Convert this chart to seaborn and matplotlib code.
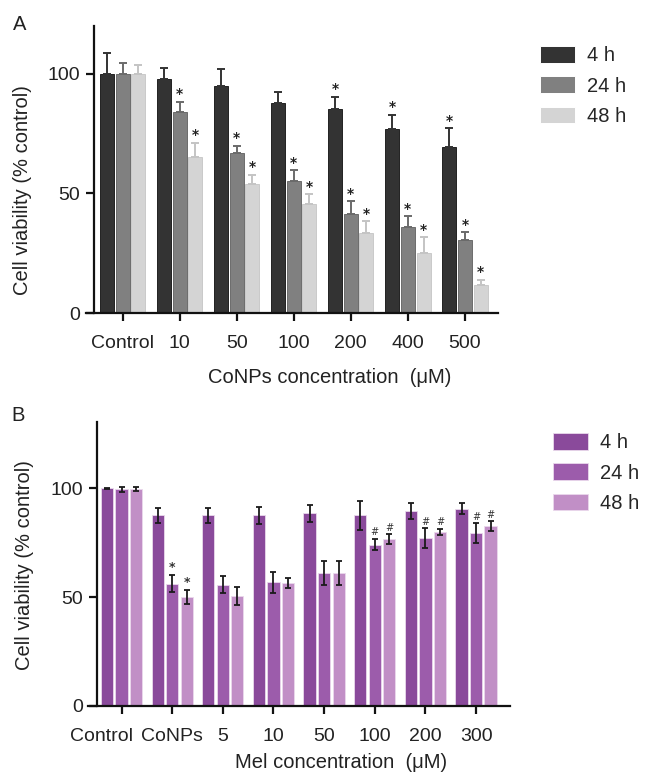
import numpy as np
import pandas as pd
import matplotlib
matplotlib.use("Agg")
import matplotlib.pyplot as plt
import matplotlib.transforms as mtransforms
import seaborn as sns

# ---------------- data ----------------
times = ["4 h", "24 h", "48 h"]

conc_a = ["Control", "10", "50", "100", "200", "400", "500"]
a_4h = [100.0, 97.8, 95.1, 87.7, 85.2, 77.1, 69.2]
a_24h = [100.0, 84.2, 66.8, 55.4, 41.4, 35.8, 30.6]
a_48h = [100.0, 65.3, 53.8, 45.6, 33.4, 25.1, 11.8]
a_err_4h = [8.6, 4.6, 7.0, 4.5, 5.1, 5.8, 8.0]
a_err_24h = [4.5, 4.2, 3.1, 4.2, 5.3, 4.6, 3.1]
a_err_48h = [3.8, 5.7, 4.0, 4.0, 4.9, 6.5, 2.1]
# significance marks per (time, concentration)
a_sig_4h = ["", "", "", "", "*", "*", "*"]
a_sig_24h = ["", "*", "*", "*", "*", "*", "*"]
a_sig_48h = ["", "*", "*", "*", "*", "*", "*"]

conc_b = ["Control", "CoNPs", "5", "10", "50", "100", "200", "300"]
b_4h = [100.0, 87.6, 87.6, 87.6, 88.5, 87.6, 89.6, 90.6]
b_24h = [99.5, 56.2, 55.8, 56.8, 61.1, 74.2, 77.0, 79.3]
b_48h = [99.8, 50.1, 50.7, 56.5, 61.1, 76.8, 79.9, 82.6]
b_err_4h = [0.3, 3.6, 3.6, 3.8, 4.0, 6.8, 3.8, 2.5]
b_err_24h = [1.3, 4.0, 3.8, 5.0, 5.6, 2.6, 4.6, 4.6]
b_err_48h = [1.0, 3.2, 4.1, 2.3, 5.5, 2.2, 1.5, 2.2]
b_sig_4h = ["", "", "", "", "", "", "", ""]
b_sig_24h = ["", "*", "", "", "", "#", "#", "#"]
b_sig_48h = ["", "*", "", "", "", "#", "#", "#"]

pal_a = ["#333333", "#808080", "#d4d4d4"]
edge_a = ["#222222", "#6c6c6c", "#cacaca"]
err_col_a = ["#333333", "#6a6a6a", "#c4c4c4"]
pal_b = ["#8a4a9b", "#9c5cab", "#c18fc6"]

# ---------------- style ----------------
sns.set_theme(style="ticks")
plt.rcParams["font.family"] = ["Liberation Sans", "DejaVu Sans"]
FS = 14
FL = 14.5

fig = plt.figure(figsize=(6.48, 7.73), dpi=100)

def long_df(conc, s4, s24, s48):
    rows = []
    for t, vals in zip(times, [s4, s24, s48]):
        for c, v in zip(conc, vals):
            rows.append({"conc": c, "time": t, "val": v})
    return pd.DataFrame(rows)

def style_axes(ax, xlim, spine_lo, ylim):
    ax.set_xlim(*xlim)
    ax.set_ylim(*ylim)
    for s in ["top", "right"]:
        ax.spines[s].set_visible(False)
    for s in ["left", "bottom"]:
        ax.spines[s].set_linewidth(1.6)
        ax.spines[s].set_color("#111111")
    ax.spines["left"].set_bounds(0, ylim[1])
    ax.spines["bottom"].set_bounds(spine_lo, xlim[1])
    ax.spines["bottom"].set_clip_on(False)
    ax.set_yticks([0, 50, 100])
    ax.tick_params(axis="both", direction="out", length=6, width=1.6,
                   colors="#111111", labelsize=FS, labelcolor="#222222")
    ax.tick_params(axis="x", pad=9.5)
    ax.tick_params(axis="y", pad=4)

def add_legend(ax, anchor):
    h, l = ax.get_legend_handles_labels()
    leg = fig.legend(h, l, loc="upper left", bbox_to_anchor=anchor,
                     bbox_transform=fig.transFigure, frameon=False,
                     borderpad=0, borderaxespad=0, fontsize=FL,
                     handlelength=1.75, handleheight=0.9,
                     handletextpad=0.6, labelspacing=0.55)
    if ax.get_legend() is not None:
        ax.get_legend().remove()
    return leg

# ---------------- panel A ----------------
axA = fig.add_axes([94 / 648, 1 - 313 / 773, 404 / 648, 287 / 773])
dfa = long_df(conc_a, a_4h, a_24h, a_48h)
sns.barplot(data=dfa, x="conc", y="val", hue="time", order=conc_a,
            hue_order=times, palette=pal_a, width=0.825, gap=0.11,
            errorbar=None, ax=axA, saturation=1, linewidth=0.7)
for cont, errs, ec, edc, sigs in zip(axA.containers,
                                     [a_err_4h, a_err_24h, a_err_48h],
                                     err_col_a, edge_a,
                                     [a_sig_4h, a_sig_24h, a_sig_48h]):
    for p in cont.patches:
        p.set_edgecolor(edc)
    xs = [p.get_x() + p.get_width() / 2 for p in cont.patches]
    ys = [p.get_height() for p in cont.patches]
    axA.errorbar(xs, ys, yerr=[np.zeros(len(errs)), errs], fmt="none",
                 ecolor=ec, elinewidth=1.4, capsize=2.6, capthick=1.4,
                 zorder=1.5)
    for x, y, e, s in zip(xs, ys, errs, sigs):
        if s:
            axA.annotate(s, (x, y + e), xytext=(0, 0.5), textcoords="offset points",
                         ha="center", va="bottom", fontsize=10,
                         fontweight="bold", color="#222222",
                         family="DejaVu Sans")
style_axes(axA, (-0.5, 6.58), -0.64, (0, 120))
axA.set_xlabel("")
axA.set_ylabel("")
fig.text(23 / 648, 1 - 190 / 773, "Cell viability (% control)", rotation=90,
         ha="center", va="center", fontsize=FL, color="#222222")
fig.text(330 / 648, 1 - 377 / 773, "CoNPs concentration  (\u03bcM)",
         ha="center", va="center", fontsize=FL, color="#222222")
fig.text(20 / 648, 1 - 25 / 773, "A", ha="center", va="center",
         fontsize=FL, color="#222222")
add_legend(axA, (540 / 648, 1 - 46 / 773))

# ---------------- panel B ----------------
axB = fig.add_axes([96.7 / 648, 1 - 706 / 773, 413.3 / 648, 284 / 773])
dfb = long_df(conc_b, b_4h, b_24h, b_48h)
sns.barplot(data=dfb, x="conc", y="val", hue="time", order=conc_b,
            hue_order=times, palette=pal_b, width=0.86, gap=0.16,
            errorbar=None, ax=axB, saturation=1, edgecolor="#ead9ec",
            linewidth=0.6)
for cont, errs, sigs in zip(axB.containers,
                            [b_err_4h, b_err_24h, b_err_48h],
                            [b_sig_4h, b_sig_24h, b_sig_48h]):
    xs = [p.get_x() + p.get_width() / 2 for p in cont.patches]
    ys = [p.get_height() for p in cont.patches]
    axB.errorbar(xs, ys, yerr=errs, fmt="none", ecolor="#1a1a1a",
                 elinewidth=1.3, capsize=2.5, capthick=1.3)
    for x, y, e, s in zip(xs, ys, errs, sigs):
        if s:
            axB.annotate(s, (x, y + e), xytext=(0, 1), textcoords="offset points",
                         ha="center", va="bottom",
                         fontsize=9 if s == "*" else 7,
                         fontweight="bold" if s == "*" else "normal",
                         color="#333333", family="DejaVu Sans")
style_axes(axB, (-0.49, 7.67), -0.67, (0, 130.5))
axB.set_xlabel("")
axB.set_ylabel("")
# the first category label sits left of its tick in the reference
fig.canvas.draw()
lbl0 = axB.get_xticklabels()[0]
lbl0.set_transform(lbl0.get_transform() +
                   mtransforms.ScaledTranslation(-0.20, 0, fig.dpi_scale_trans))
fig.text(25 / 648, 1 - 565 / 773, "Cell viability (% control)", rotation=90,
         ha="center", va="center", fontsize=FL, color="#222222")
fig.text(341 / 648, 1 - 763 / 773, "Mel concentration  (\u03bcM)",
         ha="center", va="center", fontsize=FL, color="#222222")
fig.text(18 / 648, 1 - 415 / 773, "B", ha="center", va="center",
         fontsize=FL, color="#222222")
add_legend(axB, (553 / 648, 1 - 433 / 773))

fig.savefig("out.png", dpi=100)
